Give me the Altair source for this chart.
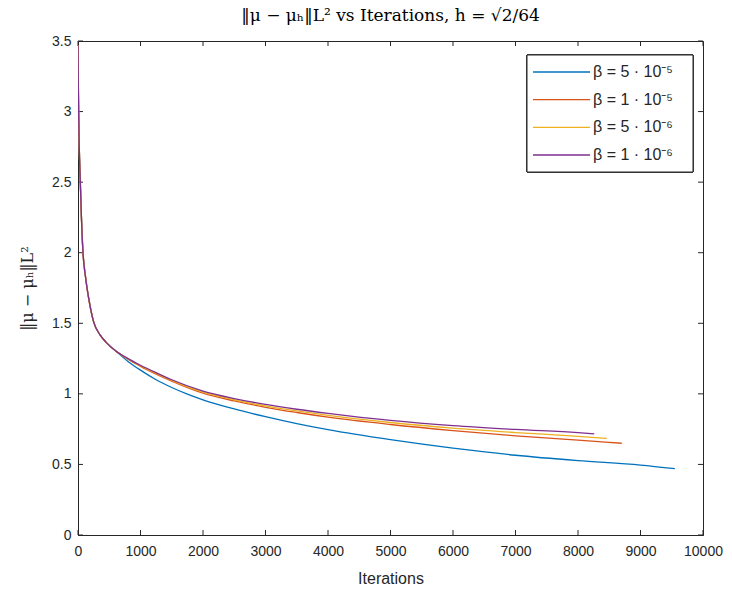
import altair as alt
import pandas as pd

# ---- data ----
series_names = ["β = 5 · 10⁻⁵", "β = 1 · 10⁻⁵", "β = 5 · 10⁻⁶", "β = 1 · 10⁻⁶"]
series_colors = ["#0072BD", "#D95319", "#EDB120", "#7E2F8E"]

early_iters = [0, 5, 10, 20, 37, 55, 80, 120, 170, 250, 350, 450, 600]
early_vals = [3.47, 3.2, 3.0, 2.75, 2.5, 2.25, 2.0, 1.83, 1.68, 1.51, 1.42, 1.365, 1.305]

blue_iters = [800, 1000, 1250, 1500, 1750, 2000, 2500, 3000, 3500, 4000, 5000, 6000, 7000, 8000, 9000, 9550]
blue_vals = [1.23, 1.168, 1.10, 1.045, 0.998, 0.958, 0.893, 0.838, 0.789, 0.746, 0.675, 0.615, 0.565, 0.527, 0.495, 0.47]

red_iters = [800, 1000, 1250, 1500, 2000, 2500, 3000, 3500, 4000, 5000, 6000, 7000, 8000, 8700]
red_vals = [1.245, 1.195, 1.14, 1.09, 1.005, 0.95, 0.905, 0.868, 0.835, 0.783, 0.74, 0.703, 0.672, 0.65]

yellow_iters = [800, 1000, 1250, 1500, 2000, 2500, 3000, 3500, 4000, 5000, 6000, 7000, 8000, 8460]
yellow_vals = [1.247, 1.199, 1.145, 1.095, 1.012, 0.958, 0.915, 0.879, 0.848, 0.797, 0.757, 0.726, 0.699, 0.684]

purple_iters = [800, 1000, 1250, 1500, 2000, 2500, 3000, 3500, 4000, 5000, 6000, 7000, 8000, 8260]
purple_vals = [1.25, 1.203, 1.15, 1.10, 1.02, 0.967, 0.925, 0.891, 0.862, 0.812, 0.775, 0.748, 0.725, 0.717]

x_ticks = [0, 1000, 2000, 3000, 4000, 5000, 6000, 7000, 8000, 9000, 10000]
y_ticks = [0, 0.5, 1, 1.5, 2, 2.5, 3, 3.5]

# ---- build table ----
rows = []
tails = [(blue_iters, blue_vals), (red_iters, red_vals), (yellow_iters, yellow_vals), (purple_iters, purple_vals)]
for k, (name, (ti, tv)) in enumerate(zip(series_names, tails)):
    for i, v in zip(early_iters + ti, early_vals + tv):
        rows.append({"series": name, "iter": i, "val": v, "order": k})
df = pd.DataFrame(rows)
leg_df = pd.DataFrame({"series": series_names})

W, H = 625, 494
TL = 5
AX = "#262626"

xscale = alt.Scale(domain=[0, 10000], nice=False, zero=False)
yscale = alt.Scale(domain=[0, 3.5], nice=False, zero=False)
cscale = alt.Scale(domain=series_names, range=series_colors)

lines = alt.Chart(df).mark_line(strokeWidth=1.3, interpolate="monotone", clip=True).encode(
    x=alt.X("iter:Q", scale=xscale,
            axis=alt.Axis(values=x_ticks, format="d", title="Iterations", ticks=False, labelFlush=False,
                          grid=False, labelPadding=9, titlePadding=12)),
    y=alt.Y("val:Q", scale=yscale,
            axis=alt.Axis(values=y_ticks, format="~g", title="‖μ − μₕ‖L²", ticks=False, labelFlush=False,
                          grid=False, labelPadding=7, titlePadding=16,
                          titleFont="DejaVu Serif", titleFontWeight="normal", titleFontSize=16)),
    color=alt.Color("series:N", scale=cscale, legend=None),
    detail="series:N",
    order="iter:Q",
)

xt = pd.DataFrame({"t": x_ticks})
yt = pd.DataFrame({"t": y_ticks})

xb = alt.Chart(xt).mark_rule(color=AX, strokeWidth=1).encode(x=alt.X("t:Q", scale=xscale), y=alt.value(H), y2=alt.value(H - TL))
xtop = alt.Chart(xt).mark_rule(color=AX, strokeWidth=1).encode(x=alt.X("t:Q", scale=xscale), y=alt.value(0), y2=alt.value(TL))
yl = alt.Chart(yt).mark_rule(color=AX, strokeWidth=1).encode(y=alt.Y("t:Q", scale=yscale, axis=None), x=alt.value(0), x2=alt.value(TL))
yr = alt.Chart(yt).mark_rule(color=AX, strokeWidth=1).encode(y=alt.Y("t:Q", scale=yscale, axis=None), x=alt.value(W), x2=alt.value(W - TL))

# ---- legend (box, line samples, labels) ----
LX0, LX1, LY0, LY1 = 449, 615, 14, 131
legscale = alt.Scale(type="point", domain=series_names, range=[31, 114], padding=0)
box = alt.Chart(leg_df).mark_rect(fill="white", stroke=AX, strokeWidth=1).encode(
    x=alt.value(LX0), x2=alt.value(LX1), y=alt.value(LY0), y2=alt.value(LY1))
leg_lines = alt.Chart(leg_df).mark_rule(strokeWidth=1.3).encode(
    x=alt.value(LX0 + 6), x2=alt.value(LX0 + 63),
    y=alt.Y("series:N", scale=legscale, axis=None),
    color=alt.Color("series:N", scale=cscale, legend=None))
leg_text = alt.Chart(leg_df).mark_text(align="left", baseline="middle", font="Liberation Sans",
                                       fontSize=16, color=AX).encode(
    x=alt.value(LX0 + 66),
    y=alt.Y("series:N", scale=legscale, axis=None),
    text="series:N")

chart = alt.layer(xb, xtop, yl, yr, lines, box, leg_lines, leg_text).resolve_scale(y="independent").properties(
    width=W, height=H,
    background="white",
    title=alt.TitleParams("‖μ − μₕ‖L² vs Iterations, h = √2/64", font="DejaVu Serif",
                          fontSize=17, fontWeight="normal", color="black", anchor="middle", offset=9),
    autosize=alt.AutoSizeParams(type="none"),
    padding={"left": 78, "top": 41, "right": 29, "bottom": 59},
).configure_view(stroke=AX, strokeWidth=1).configure_axis(
    domainColor=AX, labelColor=AX, titleColor=AX, labelFont="Liberation Sans", labelFontSize=14,
    titleFont="Liberation Sans", titleFontSize=16, titleFontWeight="normal",
)

chart.save("out.html", embed_options={"renderer": "svg", "actions": False})
